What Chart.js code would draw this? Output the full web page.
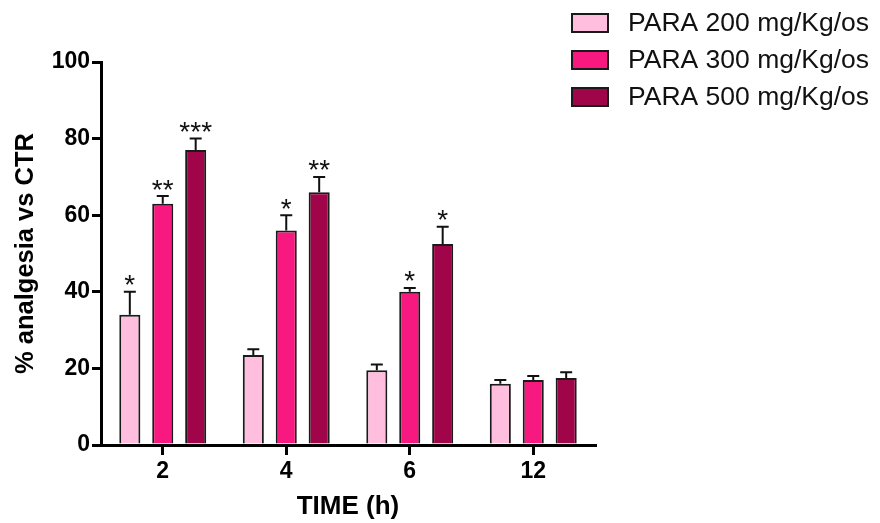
<!DOCTYPE html>
<html>
<head>
<meta charset="utf-8">
<script src="https://cdn.jsdelivr.net/npm/chart.js@4.4.1/dist/chart.umd.min.js"></script>
<style>
  html, body { margin: 0; padding: 0; background: #ffffff; }
  #wrap { width: 880px; height: 523px; }
</style>
</head>
<body>
<div id="wrap"><canvas id="c" width="880" height="523"></canvas></div>
<script>
// Time points (hours)
const categories = ['2', '4', '6', '12'];

// Mean % analgesia vs control, per dose
const para200 = [34, 23.5, 19.5, 16];
const para300 = [63, 56, 40, 17];
const para500 = [77, 66, 52.5, 17.5];

// Standard error (upper whisker only)
const para200Sem = [6, 1.5, 1.5, 1];
const para300Sem = [2, 4, 1, 1];
const para500Sem = [3, 4, 4.5, 1.5];

// Significance marks above each bar
const para200Stars = ['*', '', '', ''];
const para300Stars = ['**', '*', '*', ''];
const para500Stars = ['***', '**', '*', ''];

const seriesLabels = ['PARA 200 mg/Kg/os', 'PARA 300 mg/Kg/os', 'PARA 500 mg/Kg/os'];
const yTicks = [0, 20, 40, 60, 80, 100];

const FONT = "'Liberation Sans', Arial, Helvetica, sans-serif";

// Upper error whiskers plus significance asterisks
const errorBarPlugin = {
  id: 'errorBars',
  afterDatasetsDraw(chart) {
    const ctx = chart.ctx;
    const yScale = chart.scales.y;
    ctx.save();
    chart.data.datasets.forEach((ds, di) => {
      const meta = chart.getDatasetMeta(di);
      meta.data.forEach((bar, i) => {
        const top = ds.data[i] + ds.sem[i];
        const yTop = yScale.getPixelForValue(top);
        const x = bar.x;
        ctx.strokeStyle = '#111';
        ctx.lineWidth = 2;
        ctx.beginPath();
        ctx.moveTo(x, bar.y);
        ctx.lineTo(x, yTop);
        ctx.moveTo(x - 6, yTop);
        ctx.lineTo(x + 6, yTop);
        ctx.stroke();
        const s = ds.stars[i];
        if (s) {
          ctx.font = '28px ' + FONT;
          ctx.fillStyle = '#111';
          ctx.textAlign = 'center';
          ctx.textBaseline = 'alphabetic';
          const m = ctx.measureText('*');
          const asc = m.actualBoundingBoxAscent;
          const desc = m.actualBoundingBoxDescent;
          const centerY = yTop - 11.5;
          ctx.fillText(s, x, centerY + (asc - desc) / 2);
        }
      });
    });
    ctx.restore();
  }
};

// Legend block drawn to the upper right of the plot
const legendPlugin = {
  id: 'sideLegend',
  afterDraw(chart) {
    const ctx = chart.ctx;
    const boxX = 572, boxW = 36, boxH = 18, textX = 628;
    const rowY = [23, 60, 97];
    ctx.save();
    ctx.font = '26.5px ' + FONT;
    ctx.textAlign = 'left';
    ctx.textBaseline = 'middle';
    chart.data.datasets.forEach((ds, i) => {
      const cy = rowY[i];
      ctx.fillStyle = ds.backgroundColor;
      ctx.fillRect(boxX, cy - boxH / 2, boxW, boxH);
      ctx.strokeStyle = '#1a1a1a';
      ctx.lineWidth = 2;
      ctx.strokeRect(boxX, cy - boxH / 2, boxW, boxH);
      ctx.fillStyle = '#111';
      ctx.fillText(ds.label, textX, cy + 1);
    });
    ctx.restore();
  }
};

const colors = ['#FFBEDD', '#F7197F', '#A0054A'];
const values = [para200, para300, para500];
const sems = [para200Sem, para300Sem, para500Sem];
const stars = [para200Stars, para300Stars, para500Stars];

const datasets = seriesLabels.map((label, i) => ({
  label,
  data: values[i],
  sem: sems[i],
  stars: stars[i],
  backgroundColor: colors[i],
  borderColor: '#1a1a1a',
  borderWidth: 2,
  borderSkipped: 'bottom',
  categoryPercentage: 0.8,
  barPercentage: 0.64
}));

new Chart(document.getElementById('c'), {
  type: 'bar',
  data: { labels: categories, datasets },
  options: {
    responsive: false,
    animation: false,
    devicePixelRatio: 1,
    layout: { padding: { top: 62, right: 285, left: 0, bottom: 0 } },
    plugins: {
      legend: { display: false },
      tooltip: { enabled: false }
    },
    scales: {
      x: {
        afterFit(scale) { scale.height = 78; },
        grid: {
          display: true, drawOnChartArea: false, drawTicks: true, offset: false,
          tickLength: 10, tickWidth: 3, tickColor: '#000', lineWidth: 3, color: '#000'
        },
        border: { display: true, color: '#000', width: 3 },
        ticks: {
          color: '#000', padding: 3,
          font: { family: FONT, size: 23, weight: 'bold' }
        },
        title: {
          display: true, text: 'TIME (h)', color: '#000',
          font: { family: FONT, size: 26, weight: 'bold', lineHeight: 1.2 },
          padding: { top: 0, bottom: 1 }
        }
      },
      y: {
        min: 0, max: 100,
        afterFit(scale) { scale.width = 101; },
        afterBuildTicks(scale) { scale.ticks = yTicks.map(v => ({ value: v })); },
        grid: {
          display: true, drawOnChartArea: false, drawTicks: true,
          tickLength: 9, tickWidth: 3, tickColor: '#000', lineWidth: 3, color: '#000'
        },
        border: { display: true, color: '#000', width: 3 },
        ticks: {
          color: '#000', padding: 2,
          font: { family: FONT, size: 23, weight: 'bold' }
        },
        title: {
          display: true, text: '% analgesia vs CTR', color: '#000',
          font: { family: FONT, size: 25.5, weight: 'bold', lineHeight: 1.2 },
          padding: { top: 11, bottom: 0 }
        }
      }
    }
  },
  plugins: [errorBarPlugin, legendPlugin]
});
</script>
</body>
</html>
